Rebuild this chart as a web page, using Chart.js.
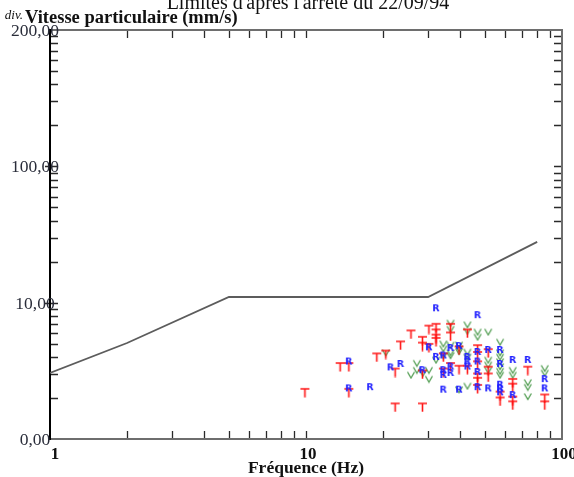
<!DOCTYPE html>
<html>
<head>
<meta charset="utf-8">
<script src="https://cdn.jsdelivr.net/npm/chart.js@4/dist/chart.umd.min.js"></script>
<style>
  html, body { margin: 0; padding: 0; overflow: hidden; background: #fff; width: 574px; height: 477px; }
  #wrap { position: absolute; left: 0; top: 0; width: 600px; height: 477px; }
</style>
</head>
<body>
<div id="wrap"><canvas id="c" width="600" height="477"></canvas></div>
<script>
// Limit curve (mm/s versus Hz)
const limitFreq = [1, 2, 5, 30, 80];
const limitVel  = [3.05, 5.06, 11.0, 11.0, 27.9];

// Transverse component (T)
const tFreq = [9.9, 13.6, 14.7, 14.7, 18.9, 20.5, 22.3, 23.4, 25.7, 22.3, 28.5, 28.5, 28.5, 28.5,
  30.2, 32.2, 32.2, 32.2, 32.2, 30.2, 36.7, 36.7, 42.7, 34.4, 34.4, 36.7, 39.6, 39.6, 42.7,
  46.8, 46.8, 46.8, 46.8, 46.8, 46.8, 51.5, 51.5, 51.5, 57.3, 57.3, 64.2, 64.2, 64.2, 64.2,
  73.5, 85.6, 85.6];
const tVel  = [2.2, 3.4, 3.4, 2.2, 4.0, 4.2, 3.1, 4.9, 5.9, 1.72, 1.72, 5.3, 4.8, 3.0,
  6.4, 6.6, 6.0, 5.5, 5.2, 4.7, 6.6, 5.7, 6.0, 4.0, 3.1, 3.4, 4.5, 3.25, 3.25,
  4.6, 4.1, 3.5, 2.85, 2.65, 2.35, 4.3, 3.2, 2.85, 2.1, 1.9, 2.6, 2.4, 1.93, 1.78,
  3.2, 2.0, 1.78];

// Vertical component (V)
const vFreq = [20.5, 25.7, 27.1, 27.1, 28.6, 30.2, 30.2, 32.2, 34.4, 34.4, 34.4, 36.7, 36.7, 36.7,
  36.7, 36.7, 39.6, 39.6, 39.6, 39.6, 42.7, 42.7, 42.7, 42.7, 42.7, 46.8, 46.8, 51.5, 51.5,
  51.5, 51.5, 57.3, 57.3, 57.3, 57.3, 57.3, 57.3, 57.3, 64.2, 64.2, 73.5, 73.5, 73.5, 85.6, 85.6];
const vVel  = [4.3, 2.95, 3.6, 3.2, 3.05, 3.2, 2.75, 3.8, 5.0, 4.6, 4.1, 7.1, 6.4, 4.9,
  4.3, 4.1, 4.9, 4.6, 4.4, 2.3, 6.9, 6.2, 4.35, 4.0, 2.45, 6.1, 5.6, 6.1, 3.8,
  3.5, 3.2, 5.15, 4.3, 4.0, 3.7, 3.4, 3.15, 2.95, 3.2, 2.95, 2.6, 2.4, 2.05, 3.3, 3.05];

// Radial component (R)
const rFreq = [14.7, 14.7, 17.8, 21.4, 23.4, 28.5, 30.2, 32.2, 32.2, 34.4, 34.4, 34.4, 34.4,
  36.7, 36.7, 36.7, 39.6, 39.6, 42.7, 42.7, 42.7, 46.8, 46.8, 46.8, 46.8, 46.8, 51.5, 51.5,
  57.3, 57.3, 57.3, 57.3, 57.3, 64.2, 64.2, 73.5, 85.6, 85.6];
const rVel  = [3.7, 2.35, 2.4, 3.35, 3.55, 3.2, 4.7, 9.1, 4.0, 4.1, 3.2, 2.95, 2.3,
  4.65, 3.4, 3.05, 4.8, 2.3, 4.0, 3.7, 3.4, 8.1, 4.35, 3.7, 3.1, 2.4, 4.5, 2.35,
  4.5, 3.55, 2.5, 2.35, 2.2, 3.8, 2.1, 3.8, 2.75, 2.35];

// Axis ticks and their printed labels
const xTickValues = [1, 10, 100];
const xTickLabels = ['1', '10', '100'];
const yTickValues = [1, 10, 100, 1000];
const yTickLabels = ['0,00', '10,00', '100,00', '200,00'];

const titleText = "Limites d'après l'arrêté du 22/09/94";
const yTitleText = 'Vitesse particulaire (mm/s)';
const yPrefixText = 'div.';
const xTitleText = 'Fréquence (Hz)';

const pairs = (fx, fy) => fx.map((f, i) => ({ x: f, y: fy[i] }));

// Marker glyphs
function glyph(w, h, paint) {
  const c = document.createElement('canvas');
  c.width = w; c.height = h;
  paint(c.getContext('2d'));
  return c;
}
const markT = glyph(11, 11, g => {
  g.strokeStyle = 'rgba(255,10,10,0.95)';
  g.lineWidth = 1.6;
  g.beginPath();
  g.moveTo(1, 2); g.lineTo(10, 2);
  g.moveTo(5.5, 2); g.lineTo(5.5, 10.5);
  g.stroke();
});
const markV = glyph(10, 9, g => {
  g.strokeStyle = 'rgba(50,140,50,0.85)';
  g.lineWidth = 1.3;
  g.beginPath();
  g.moveTo(1.5, 1.5); g.lineTo(5, 7.5); g.lineTo(8.5, 1.5);
  g.stroke();
});
const markR = glyph(8, 10, g => {
  g.fillStyle = '#1f1fff';
  g.font = 'bold 9.5px "DejaVu Sans"';
  g.textAlign = 'center';
  g.textBaseline = 'middle';
  g.fillText('R', 4, 5.5);
});

const framePlugin = {
  id: 'frame',
  beforeDatasetsDraw(chart) {
    const ctx = chart.ctx, a = chart.chartArea;
    const xs = chart.scales.x, ys = chart.scales.y;
    ctx.save();
    // minor / major tick marks on all four sides
    ctx.strokeStyle = '#2a2a2a';
    ctx.lineWidth = 1.3;
    ctx.beginPath();
    [1, 10].forEach(dec => {
      for (let k = 1; k <= 9; k++) {
        const v = dec * k;
        if (v <= 1 || v >= 100) continue;
        const px = Math.round(xs.getPixelForValue(v)) + 0.5;
        ctx.moveTo(px, a.top); ctx.lineTo(px, a.top + 8);
        ctx.moveTo(px, a.bottom); ctx.lineTo(px, a.bottom - 8);
      }
    });
    [1, 10, 100].forEach(dec => {
      for (let k = 1; k <= 9; k++) {
        const v = dec * k;
        if (v <= 1 || v >= 1000) continue;
        const py = Math.round(ys.getPixelForValue(v)) + 0.5;
        const major = (k === 1);
        ctx.moveTo(a.left - (major ? 5 : 0), py); ctx.lineTo(a.left + 8, py);
        ctx.moveTo(a.right, py); ctx.lineTo(a.right - 8, py);
      }
    });
    ctx.stroke();
    // frame
    ctx.lineWidth = 2;
    ctx.strokeStyle = '#6e6e6e';
    ctx.beginPath();
    ctx.moveTo(a.left, a.top); ctx.lineTo(a.right, a.top); ctx.lineTo(a.right, a.bottom); ctx.lineTo(a.left, a.bottom);
    ctx.stroke();
    ctx.strokeStyle = '#000';
    ctx.beginPath();
    ctx.moveTo(a.left, a.top - 1); ctx.lineTo(a.left, a.bottom + 1);
    ctx.stroke();
    ctx.restore();
  },
  afterDraw(chart) {
    const ctx = chart.ctx, a = chart.chartArea;
    const xs = chart.scales.x, ys = chart.scales.y;
    ctx.save();
    // heading
    ctx.fillStyle = '#111';
    ctx.font = '20px "Liberation Serif"';
    ctx.textAlign = 'center';
    ctx.textBaseline = 'alphabetic';
    ctx.fillText(titleText, 308, 9);
    // y axis title
    ctx.textAlign = 'left';
    ctx.font = 'bold 18.5px "Liberation Serif"';
    ctx.fillText(yTitleText, 25, 23);
    ctx.textAlign = 'right';
    ctx.font = 'italic 13px "Liberation Serif"';
    ctx.fillText(yPrefixText, 23, 19);
    // y tick labels
    ctx.fillStyle = '#2a2d3a';
    ctx.font = '17.5px "Liberation Serif"';
    ctx.textAlign = 'center';
    ctx.textBaseline = 'middle';
    yTickValues.forEach((v, i) => {
      ctx.fillText(yTickLabels[i], 35, ys.getPixelForValue(v) + 1.5);
    });
    // x tick labels
    ctx.fillStyle = '#111';
    ctx.font = 'bold 17px "Liberation Serif"';
    ctx.textBaseline = 'alphabetic';
    xTickValues.forEach((v, i) => {
      const shift = (i === 0) ? 5 : 2;
      ctx.fillText(xTickLabels[i], xs.getPixelForValue(v) + shift, 459);
    });
    // x axis title
    ctx.font = 'bold 17.5px "Liberation Serif"';
    ctx.fillText(xTitleText, (a.left + a.right) / 2, 473);
    ctx.restore();
  }
};

new Chart(document.getElementById('c'), {
  type: 'scatter',
  data: {
    datasets: [
      {
        label: 'Limite',
        type: 'line',
        data: pairs(limitFreq, limitVel),
        borderColor: '#5c5c5c',
        borderWidth: 1.8,
        pointRadius: 0,
        fill: false,
        tension: 0,
        order: 4
      },
      { label: 'V', data: pairs(vFreq, vVel), pointStyle: markV, pointRadius: 4, order: 3 },
      { label: 'T', data: pairs(tFreq, tVel), pointStyle: markT, pointRadius: 4, order: 2 },
      { label: 'R', data: pairs(rFreq, rVel), pointStyle: markR, pointRadius: 4, order: 1 }
    ]
  },
  options: {
    responsive: false,
    devicePixelRatio: 1,
    animation: false,
    events: [],
    layout: { padding: { left: 50, top: 30, right: 38, bottom: 38 } },
    plugins: { legend: { display: false }, tooltip: { enabled: false }, title: { display: false } },
    scales: {
      x: { type: 'logarithmic', min: 1, max: 100, display: false },
      y: { type: 'logarithmic', min: 1, max: 1000, display: false }
    }
  },
  plugins: [framePlugin]
});
</script>
</body>
</html>
